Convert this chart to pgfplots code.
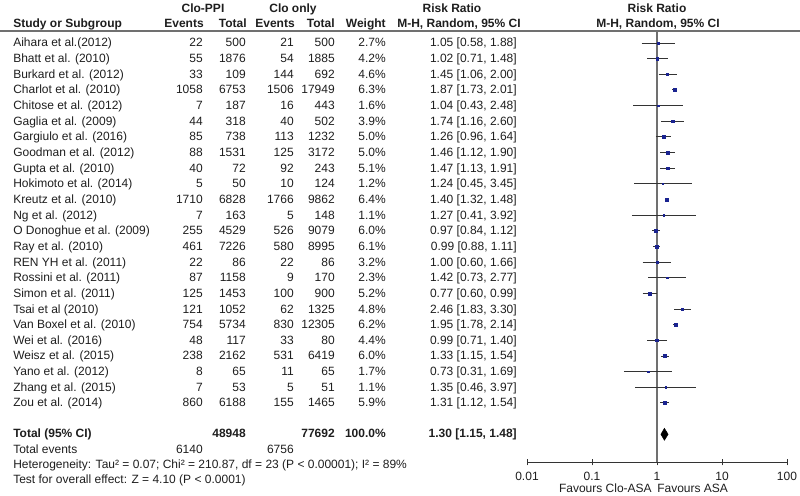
\documentclass[border=0pt]{standalone}
\usepackage{pgfplots}
\pgfplotsset{compat=1.18}
\usepackage{pgfplotstable}
\usepackage{fontspec}
\setmainfont{Liberation Sans}
\definecolor{txt}{HTML}{1E1E1E}
\definecolor{mk}{HTML}{1A2390}
\definecolor{cil}{HTML}{333333}
\definecolor{vl}{HTML}{707070}

\pgfplotstableread{
row est lo hi w
1 1.05 0.58 1.88 2.7
2 1.02 0.71 1.48 4.2
3 1.45 1.06 2.00 4.6
4 1.87 1.73 2.01 6.3
5 1.04 0.43 2.48 1.6
6 1.74 1.16 2.60 3.9
7 1.26 0.96 1.64 5.0
8 1.46 1.12 1.90 5.0
9 1.47 1.13 1.91 5.1
10 1.24 0.45 3.45 1.2
11 1.40 1.32 1.48 6.4
12 1.27 0.41 3.92 1.1
13 0.97 0.84 1.12 6.0
14 0.99 0.88 1.11 6.1
15 1.00 0.60 1.66 3.2
16 1.42 0.73 2.77 2.3
17 0.77 0.60 0.99 5.2
18 2.46 1.83 3.30 4.8
19 1.95 1.78 2.14 6.2
20 0.99 0.71 1.40 4.4
21 1.33 1.15 1.54 6.0
22 0.73 0.31 1.69 1.7
23 1.35 0.46 3.97 1.1
24 1.31 1.12 1.54 5.9
}\studies

\newcommand\ci[3]{\addplot[cil, line width=0.75pt, forget plot] coordinates {(#1,#3) (#2,#3)};}
\newcommand\rowtxt[8]{%
  \pgfmathsetmacro\yy{47+(#1-1)*15.65}%
  \node[anchor=base west] at (13,\yy) {#2};
  \node[anchor=base east] at (203,\yy) {#3};
  \node[anchor=base east] at (246,\yy) {#4};
  \node[anchor=base east] at (294,\yy) {#5};
  \node[anchor=base east] at (335,\yy) {#6};
  \node[anchor=base east] at (386,\yy) {#7\%};
  \node[anchor=base east] at (517,\yy) {#8};
}

\begin{document}
\fontsize{9}{10.8}\selectfont
\begin{tikzpicture}[every node/.style={inner sep=0pt, text=txt, font=\fontsize{9}{10.8}\selectfont}]
\useasboundingbox (0,0) rectangle (600pt,372pt);
\begin{axis}[
  at={(395.25pt,25.5pt)}, anchor=south west,
  scale only axis, width=195pt, height=323.25pt,
  xmode=log, xmin=0.01, xmax=100,
  ymin=0.233, ymax=27.77, y dir=reverse,
  axis x line=bottom, axis y line=none,
  axis line style={-, color=cil, line width=0.75pt},
  xtick={0.01,0.1,1,10,100},
  xticklabels={0.01,0.1,1,10,100},
  xminorticks=false,
  tick align=center, major tick length=5pt,
  tick style={color=cil, line width=0.75pt},
  xticklabel style={font=\fontsize{9}{10.8}\selectfont, text=txt, inner sep=0pt, yshift=-5pt},
  ytick=\empty,
  clip=false,
]
\addplot[vl, line width=0.9pt, forget plot] coordinates {(1,0.233) (1,27.77)};
\ci{0.58}{1.88}{1}
\ci{0.71}{1.48}{2}
\ci{1.06}{2.00}{3}
\ci{1.73}{2.01}{4}
\ci{0.43}{2.48}{5}
\ci{1.16}{2.60}{6}
\ci{0.96}{1.64}{7}
\ci{1.12}{1.90}{8}
\ci{1.13}{1.91}{9}
\ci{0.45}{3.45}{10}
\ci{1.32}{1.48}{11}
\ci{0.41}{3.92}{12}
\ci{0.84}{1.12}{13}
\ci{0.88}{1.11}{14}
\ci{0.60}{1.66}{15}
\ci{0.73}{2.77}{16}
\ci{0.60}{0.99}{17}
\ci{1.83}{3.30}{18}
\ci{1.78}{2.14}{19}
\ci{0.71}{1.40}{20}
\ci{1.15}{1.54}{21}
\ci{0.31}{1.69}{22}
\ci{0.46}{3.97}{23}
\ci{1.12}{1.54}{24}
\addplot[only marks, mark=square*, scatter,
  scatter/use mapped color={draw=mk, fill=mk},
  visualization depends on={0.35+0.13*\thisrow{w} \as \msz},
  scatter/@pre marker code/.append style={/tikz/mark size=\msz pt}]
  table[x=est, y=row] {\studies};
\addplot[fill=black, draw=black] coordinates {(1.15,26) (1.30,25.62) (1.48,26) (1.30,26.38)} -- cycle;
\end{axis}
\begin{scope}[x=0.75pt, y=-0.75pt, shift={(0,372pt)}]
\draw[color=vl, line width=0.9pt] (0,31) -- (800,31);
\node[anchor=base, font=\bfseries\fontsize{9}{10.8}\selectfont] at (203,13) {Clo-PPI};
\node[anchor=base, font=\bfseries\fontsize{9}{10.8}\selectfont] at (293,13) {Clo only};
\node[anchor=base, font=\bfseries\fontsize{9}{10.8}\selectfont] at (452,13) {Risk Ratio};
\node[anchor=base, font=\bfseries\fontsize{9}{10.8}\selectfont] at (657,13) {Risk Ratio};
\node[anchor=base west, font=\bfseries\fontsize{9}{10.8}\selectfont] at (13,28) {Study or Subgroup};
\node[anchor=base east, font=\bfseries\fontsize{9}{10.8}\selectfont] at (204,28) {Events};
\node[anchor=base east, font=\bfseries\fontsize{9}{10.8}\selectfont] at (247,28) {Total};
\node[anchor=base east, font=\bfseries\fontsize{9}{10.8}\selectfont] at (295,28) {Events};
\node[anchor=base east, font=\bfseries\fontsize{9}{10.8}\selectfont] at (335,28) {Total};
\node[anchor=base east, font=\bfseries\fontsize{9}{10.8}\selectfont] at (386,28) {Weight};
\node[anchor=base, font=\bfseries\fontsize{9}{10.8}\selectfont] at (459,28) {M-H, Random, 95\% CI};
\node[anchor=base, font=\bfseries\fontsize{9}{10.8}\selectfont] at (658,28) {M-H, Random, 95\% CI};
\rowtxt{1}{Aihara et al.(2012)}{22}{500}{21}{500}{2.7}{1.05 [0.58, 1.88]}
\rowtxt{2}{Bhatt et al. (2010)}{55}{1876}{54}{1885}{4.2}{1.02 [0.71, 1.48]}
\rowtxt{3}{Burkard et al. (2012)}{33}{109}{144}{692}{4.6}{1.45 [1.06, 2.00]}
\rowtxt{4}{Charlot et al. (2010)}{1058}{6753}{1506}{17949}{6.3}{1.87 [1.73, 2.01]}
\rowtxt{5}{Chitose et al. (2012)}{7}{187}{16}{443}{1.6}{1.04 [0.43, 2.48]}
\rowtxt{6}{Gaglia et al. (2009)}{44}{318}{40}{502}{3.9}{1.74 [1.16, 2.60]}
\rowtxt{7}{Gargiulo et al. (2016)}{85}{738}{113}{1232}{5.0}{1.26 [0.96, 1.64]}
\rowtxt{8}{Goodman et al. (2012)}{88}{1531}{125}{3172}{5.0}{1.46 [1.12, 1.90]}
\rowtxt{9}{Gupta et al. (2010)}{40}{72}{92}{243}{5.1}{1.47 [1.13, 1.91]}
\rowtxt{10}{Hokimoto et al. (2014)}{5}{50}{10}{124}{1.2}{1.24 [0.45, 3.45]}
\rowtxt{11}{Kreutz et al. (2010)}{1710}{6828}{1766}{9862}{6.4}{1.40 [1.32, 1.48]}
\rowtxt{12}{Ng et al. (2012)}{7}{163}{5}{148}{1.1}{1.27 [0.41, 3.92]}
\rowtxt{13}{O Donoghue et al. (2009)}{255}{4529}{526}{9079}{6.0}{0.97 [0.84, 1.12]}
\rowtxt{14}{Ray et al. (2010)}{461}{7226}{580}{8995}{6.1}{0.99 [0.88, 1.11]}
\rowtxt{15}{REN YH et al. (2011)}{22}{86}{22}{86}{3.2}{1.00 [0.60, 1.66]}
\rowtxt{16}{Rossini et al. (2011)}{87}{1158}{9}{170}{2.3}{1.42 [0.73, 2.77]}
\rowtxt{17}{Simon et al. (2011)}{125}{1453}{100}{900}{5.2}{0.77 [0.60, 0.99]}
\rowtxt{18}{Tsai et al (2010)}{121}{1052}{62}{1325}{4.8}{2.46 [1.83, 3.30]}
\rowtxt{19}{Van Boxel et al. (2010)}{754}{5734}{830}{12305}{6.2}{1.95 [1.78, 2.14]}
\rowtxt{20}{Wei et al. (2016)}{48}{117}{33}{80}{4.4}{0.99 [0.71, 1.40]}
\rowtxt{21}{Weisz et al. (2015)}{238}{2162}{531}{6419}{6.0}{1.33 [1.15, 1.54]}
\rowtxt{22}{Yano et al. (2012)}{8}{65}{11}{65}{1.7}{0.73 [0.31, 1.69]}
\rowtxt{23}{Zhang et al. (2015)}{7}{53}{5}{51}{1.1}{1.35 [0.46, 3.97]}
\rowtxt{24}{Zou et al. (2014)}{860}{6188}{155}{1465}{5.9}{1.31 [1.12, 1.54]}
\node[anchor=base west, font=\bfseries\fontsize{9}{10.8}\selectfont] at (13,438) {Total (95\% CI)};
\node[anchor=base east, font=\bfseries\fontsize{9}{10.8}\selectfont] at (246,438) {48948};
\node[anchor=base east, font=\bfseries\fontsize{9}{10.8}\selectfont] at (335,438) {77692};
\node[anchor=base east, font=\bfseries\fontsize{9}{10.8}\selectfont] at (386,438) {100.0\%};
\node[anchor=base east, font=\bfseries\fontsize{9}{10.8}\selectfont] at (517,438) {1.30 [1.15, 1.48]};
\node[anchor=base west] at (13,454) {Total events};
\node[anchor=base east] at (203,454) {6140};
\node[anchor=base east] at (294,454) {6756};
\node[anchor=base west] at (13,469) {Heterogeneity: Tau² = 0.07; Chi² = 210.87, df = 23 (P < 0.00001); I² = 89\%};
\node[anchor=base west] at (13,484) {Test for overall effect: Z = 4.10 (P < 0.0001)};
\node[anchor=base east] at (652,493) {Favours Clo-ASA};
\node[anchor=base west] at (657,493) {Favours ASA};
\end{scope}
\end{tikzpicture}
\end{document}
